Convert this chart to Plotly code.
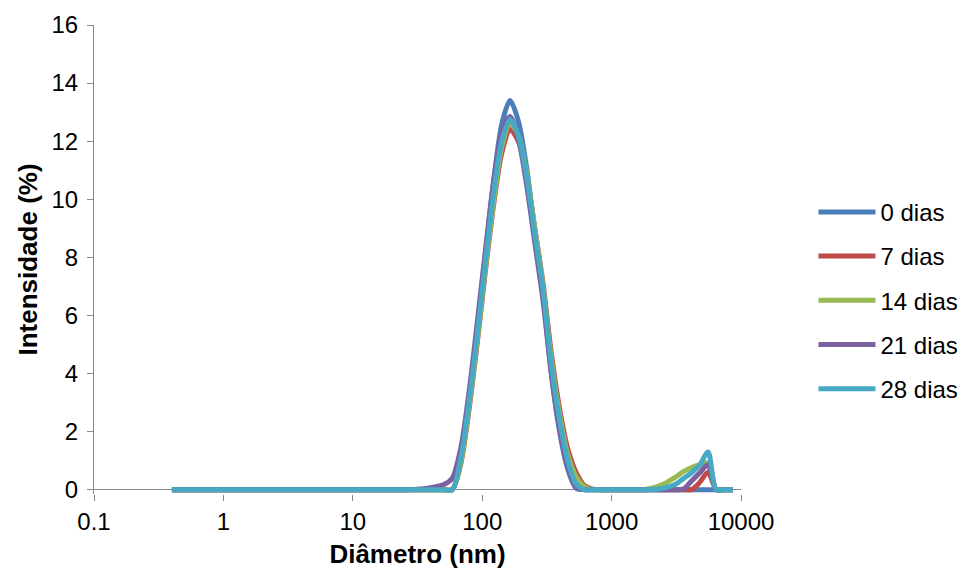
import plotly.graph_objects as go

diameter_nm = [
    0.4, 0.4632, 0.5365, 0.6213, 0.7195, 0.8332, 0.9649, 1.117, 1.294, 1.499,
    1.736, 2.01, 2.328, 2.696, 3.122, 3.615, 4.187, 4.849, 5.615, 6.503,
    7.531, 8.721, 10.1, 11.7, 13.54, 15.69, 18.17, 21.04, 24.36, 28.21,
    32.67, 37.84, 43.82, 50.75, 58.77, 68.06, 78.82, 91.28, 105.7, 122.4,
    141.8, 164.2, 190.1, 220.2, 255.0, 295.3, 342.0, 396.1, 458.7, 531.2,
    615.1, 712.4, 825.0, 955.4, 1106, 1281, 1484, 1718, 1990, 2305,
    2669, 3091, 3580, 4145, 4801, 5560, 6439, 7456, 8635,
]

dias_0 = [
    0, 0, 0, 0, 0, 0, 0, 0, 0, 0,
    0, 0, 0, 0, 0, 0, 0, 0, 0, 0,
    0, 0, 0, 0, 0, 0, 0, 0, 0, 0,
    0, 0, 0, 0, 0.0, 1.0, 3.0, 5.5, 8.1, 10.6,
    12.6, 13.4, 12.7, 11.1, 8.9, 6.7, 4.0, 2.0, 0.7, 0.05,
    0, 0, 0, 0, 0, 0, 0, 0, 0, 0,
    0, 0, 0, 0, 0, 0, 0, 0, 0,
]

dias_7 = [
    0, 0, 0, 0, 0, 0, 0, 0, 0, 0,
    0, 0, 0, 0, 0, 0, 0, 0, 0, 0,
    0, 0, 0, 0, 0, 0, 0, 0, 0, 0,
    0, 0, 0, 0, 0.0, 0.85, 2.7, 5.0, 7.5, 9.8,
    11.6, 12.4, 12.0, 10.8, 9.0, 7.1, 4.7, 2.8, 1.4, 0.6,
    0.15, 0.02, 0, 0, 0, 0, 0, 0, 0, 0,
    0, 0, 0, 0.0, 0.25, 0.6, 0, 0, 0,
]

dias_14 = [
    0, 0, 0, 0, 0, 0, 0, 0, 0, 0,
    0, 0, 0, 0, 0, 0, 0, 0, 0, 0,
    0, 0, 0, 0, 0, 0, 0, 0, 0, 0,
    0, 0, 0, 0, 0.0, 0.9, 2.8, 5.1, 7.6, 9.9,
    11.8, 12.6, 12.2, 10.9, 9.0, 7.0, 4.5, 2.6, 1.2, 0.45,
    0.1, 0, 0, 0, 0, 0, 0, 0, 0.04, 0.12,
    0.25, 0.42, 0.62, 0.76, 0.86, 0.92, 0, 0, 0,
]

dias_21 = [
    0, 0, 0, 0, 0, 0, 0, 0, 0, 0,
    0, 0, 0, 0, 0, 0, 0, 0, 0, 0,
    0, 0, 0, 0, 0, 0, 0, 0, 0, 0,
    0.02, 0.05, 0.1, 0.18, 0.4, 1.4, 3.3, 5.7, 8.2, 10.6,
    12.3, 12.85, 12.1, 10.5, 8.5, 6.5, 4.0, 2.1, 0.8, 0.1,
    0, 0, 0, 0, 0, 0, 0, 0, 0, 0,
    0, 0, 0.02, 0.3, 0.58, 0.86, 0, 0, 0,
]

dias_28 = [
    0, 0, 0, 0, 0, 0, 0, 0, 0, 0,
    0, 0, 0, 0, 0, 0, 0, 0, 0, 0,
    0, 0, 0, 0, 0, 0, 0, 0, 0, 0,
    0, 0, 0, 0, 0.0, 1.05, 2.95, 5.3, 7.8, 10.2,
    12.0, 12.75, 12.2, 10.8, 8.8, 6.9, 4.3, 2.4, 1.0, 0.2,
    0, 0, 0, 0, 0, 0, 0, 0, 0, 0.02,
    0.08, 0.18, 0.38, 0.58, 0.85, 1.3, 0, 0, 0,
]

series_names = ["0 dias", "7 dias", "14 dias", "21 dias", "28 dias"]
series_values = [dias_0, dias_7, dias_14, dias_21, dias_28]
series_colors = ["#4A7EBB", "#BE4B48", "#98B954", "#7D60A0", "#46AAC5"]

x_tick_vals = [0.1, 1, 10, 100, 1000, 10000]
x_tick_text = ["0.1", "1", "10", "100", "1000", "10000"]
y_tick_vals = [0, 2, 4, 6, 8, 10, 12, 14, 16]

FONT = "Liberation Sans, Arial, sans-serif"
AXIS_GRAY = "#898989"
FS = 24
FS_TITLE = 26

fig = go.Figure()
for name, vals, col in zip(series_names, series_values, series_colors):
    fig.add_trace(go.Scatter(
        x=diameter_nm, y=vals, name=name, mode="lines",
        line=dict(color=col, width=5, shape="spline", smoothing=0.8),
        legendgroup=name,
    ))

fig.update_layout(
    width=965, height=569,
    margin=dict(l=94, r=224, t=25, b=75, autoexpand=False),
    paper_bgcolor="white", plot_bgcolor="white",
    font=dict(family=FONT, size=FS, color="#000000"),
    showlegend=True,
    legend=dict(
        x=1.112, y=0.413, xanchor="left", yanchor="middle",
        font=dict(family=FONT, size=FS, color="#000000"),
        tracegroupgap=10, itemwidth=57,
        bgcolor="rgba(0,0,0,0)",
    ),
)

fig.update_xaxes(
    type="log", range=[-1, 4], automargin=False,
    tickmode="array", tickvals=x_tick_vals, ticktext=x_tick_text,
    ticks="outside", ticklen=6, tickcolor=AXIS_GRAY, tickwidth=1,
    showline=False, showgrid=False, zeroline=False,
    tickfont=dict(family=FONT, size=FS, color="#000000"),
    ticklabelstandoff=0,
    title=dict(text="<b>Diâmetro (nm)</b>", font=dict(family=FONT, size=FS_TITLE, color="#000000"), standoff=14),
)

fig.update_yaxes(
    range=[-0.15, 16], automargin=False,
    tickmode="array", tickvals=y_tick_vals,
    ticks="outside", ticklen=6, tickcolor=AXIS_GRAY, tickwidth=1,
    showline=True, linecolor=AXIS_GRAY, linewidth=1,
    showgrid=False, zeroline=True, zerolinecolor=AXIS_GRAY, zerolinewidth=1,
    tickfont=dict(family=FONT, size=FS, color="#000000"),
    ticklabelstandoff=4,
    title=dict(text="<b>Intensidade (%)</b>", font=dict(family=FONT, size=FS_TITLE, color="#000000"), standoff=6),
)

fig.write_html("out.html")
